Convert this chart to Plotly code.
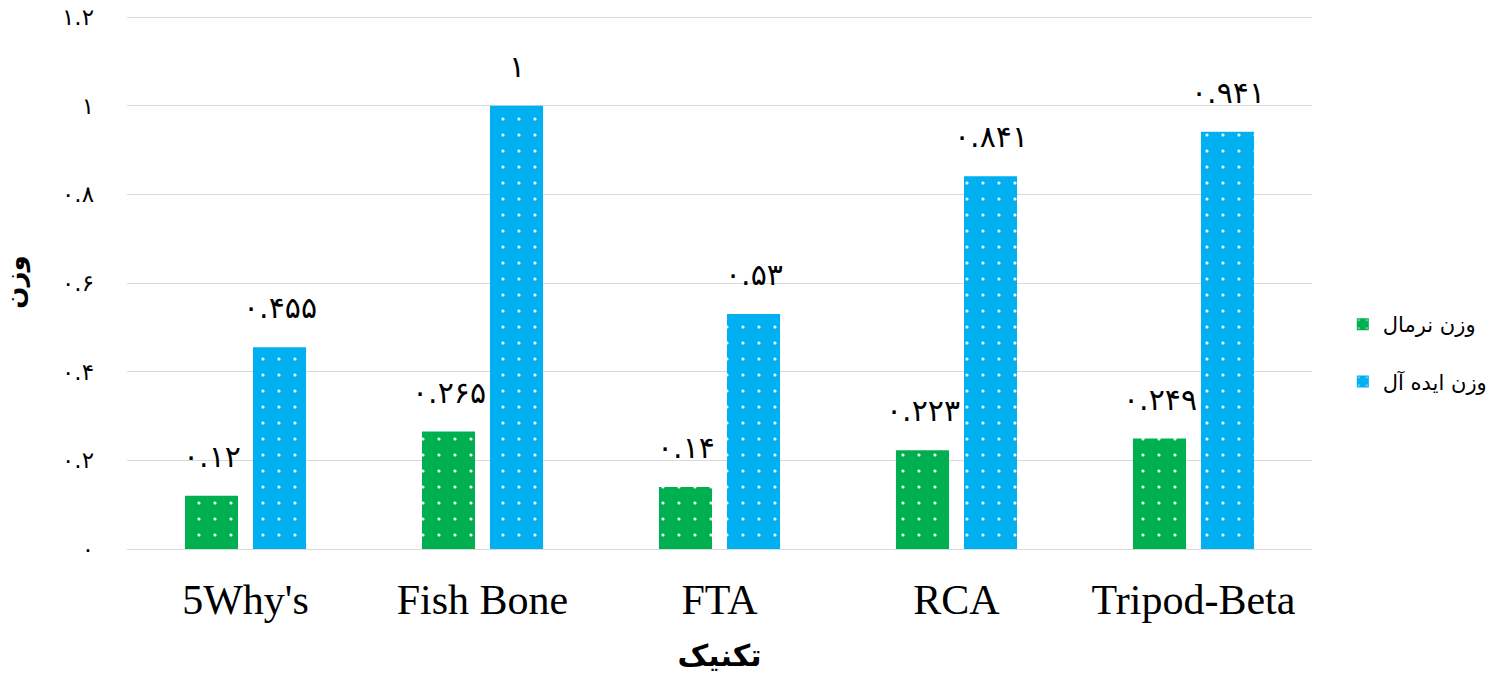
import plotly.graph_objects as go

categories = ["5Why's", "Fish Bone", "FTA", "RCA", "Tripod-Beta"]
normal_weight = [0.12, 0.265, 0.14, 0.223, 0.249]
ideal_weight = [0.455, 1.0, 0.53, 0.841, 0.941]
series_names = ["وزن نرمال", "وزن ایده آل"]
y_ticks = [0, 0.2, 0.4, 0.6, 0.8, 1.0, 1.2]

PERSIAN = str.maketrans("0123456789", "۰۱۲۳۴۵۶۷۸۹")


def fa(v):
    s = f"{v:.3f}".rstrip("0").rstrip(".")
    return s.translate(PERSIAN)


GREEN = "#00B050"
BLUE = "#00B0F0"
FA_FONT = "DejaVu Sans"
SERIF = "Liberation Serif"

fig = go.Figure()
for name, vals, col, grp in [(series_names[0], normal_weight, GREEN, "g1"),
                             (series_names[1], ideal_weight, BLUE, "g2")]:
    fig.add_trace(go.Bar(
        x=categories, y=vals, name=name, legendgroup=grp,
        marker=dict(color=col, line=dict(width=0),
                    pattern=dict(shape=".", fgcolor="white", bgcolor=col,
                                 size=16, solidity=0.03, fillmode="replace")),
    ))

for vals, dx in [(normal_weight, -34), (ideal_weight, 34)]:
    for c, v in zip(categories, vals):
        fig.add_annotation(x=c, y=v, text=fa(v), showarrow=False,
                           xanchor="center", yanchor="bottom",
                           xshift=dx, yshift=20,
                           font=dict(family=FA_FONT, size=30, color="#000"))

fig.update_layout(
    width=1499, height=677,
    margin=dict(l=127, r=187, t=15, b=128, autoexpand=False),
    paper_bgcolor="white", plot_bgcolor="white",
    barmode="group", bargap=0.426, bargroupgap=0.22,
    showlegend=True,
    legend=dict(x=1.026, y=0.367, xanchor="left", yanchor="middle",
                font=dict(family=FA_FONT, size=21, color="#000"),
                tracegroupgap=27, itemwidth=30),
    xaxis=dict(showgrid=False, showline=False, zeroline=False,
               automargin=False,
               tickfont=dict(family=SERIF, size=42, color="#000"),
               ticklabelstandoff=22,
               title=dict(text="<b>تکنیک</b>", standoff=22,
                          font=dict(family=FA_FONT, size=30, color="#000"))),
    yaxis=dict(range=[0, 1.2045], tickvals=y_ticks,
               ticktext=[fa(t) for t in y_ticks],
               automargin=False, ticklabeloverflow="allow",
               showgrid=True, gridcolor="#D9D9D9", gridwidth=1,
               zeroline=True, zerolinecolor="#D9D9D9", zerolinewidth=1,
               showline=False,
               tickfont=dict(family=FA_FONT, size=23, color="#000"),
               ticklabelstandoff=32,
               title=dict(text="<b>وزن</b>", standoff=46,
                          font=dict(family=FA_FONT, size=26, color="#000"))),
)

fig.write_html("out.html", config={"displayModeBar": False},
               post_script="document.body.style.margin='0';")
